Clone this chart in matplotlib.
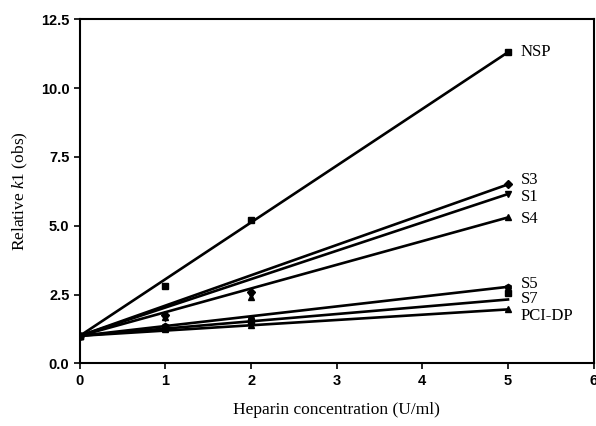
import matplotlib
matplotlib.use("Agg")
import matplotlib.pyplot as plt

plt.rcParams["mathtext.fontset"] = "custom"
plt.rcParams["mathtext.it"] = "Liberation Serif:italic"
plt.rcParams["mathtext.rm"] = "Liberation Serif"

# Data
conc = [0, 1, 2, 5]
series_names = ["NSP", "S3", "S1", "S4", "S5", "S7", "PCI-DP"]
nsp = [1.0, 2.8, 5.2, 11.3]
s3 = [1.0, 1.75, 2.6, 6.5]
s1 = [1.0, 1.65, 2.5, 6.15]
s4 = [1.0, 1.7, 2.4, 5.3]
s5 = [1.0, 1.35, 1.6, 2.78]
s7 = [1.0, 1.3, 1.5, 2.55]
pcidp = [1.0, 1.25, 1.4, 1.96]
s7_fit_end = 2.32
markers = ["s", "D", "v", "^", "h", "s", "^"]
label_y = [11.3, 6.65, 6.05, 5.25, 2.9, 2.35, 1.72]

values = [nsp, s3, s1, s4, s5, s7, pcidp]

fig = plt.figure(figsize=(5.96, 4.26), dpi=100)
ax = fig.add_axes([0.134, 0.147, 0.862, 0.808])

for name, vals, m, ly in zip(series_names, values, markers, label_y):
    end = s7_fit_end if name == "S7" else vals[-1]
    ax.plot([conc[0], conc[-1]], [vals[0], end], color="black", lw=1.9, zorder=2)
    ax.plot(conc, vals, linestyle="none", marker=m, color="black", ms=4.5, zorder=3)
    ax.text(conc[-1] + 0.15, ly, name, fontsize=12, family="Liberation Serif",
            va="center", ha="left")

ax.set_xlim(0, 6)
ax.set_ylim(0, 12.5)
ax.set_xticks([0, 1, 2, 3, 4, 5, 6])
ax.set_yticks([0, 2.5, 5.0, 7.5, 10.0, 12.5])
ax.set_yticklabels(["0.0", "2.5", "5.0", "7.5", "10.0", "12.5"])
for lbl in ax.get_xticklabels() + ax.get_yticklabels():
    lbl.set_family("Liberation Sans")
    lbl.set_fontsize(10.5)
    lbl.set_fontweight("bold")
ax.tick_params(direction="out", length=4, width=1.2)
for sp in ax.spines.values():
    sp.set_linewidth(1.5)

ax.set_xlabel("Heparin concentration (U/ml)", family="Liberation Serif", fontsize=12.5, labelpad=10)
ax.set_ylabel(r"Relative $\mathit{k1}$ (obs)", family="Liberation Serif", fontsize=12.5, labelpad=8)

fig.savefig("out.png", dpi=100)
